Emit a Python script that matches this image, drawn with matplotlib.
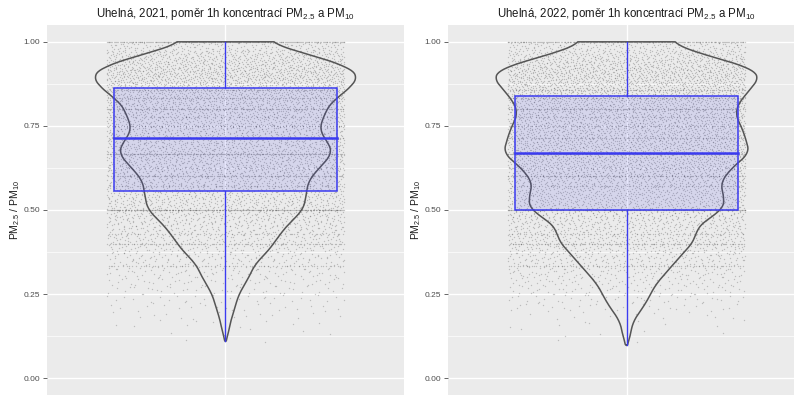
import numpy as np
import matplotlib
matplotlib.use("Agg")
import matplotlib.pyplot as plt

plt.rcParams["font.family"] = ["Liberation Sans", "DejaVu Sans"]
plt.rcParams["mathtext.fontset"] = "custom"
plt.rcParams["mathtext.rm"] = "Liberation Sans"
plt.rcParams["mathtext.it"] = "Liberation Sans:italic"

years = ["2021", "2022"]

# box statistics: whisker low, q1, median, q3, whisker high
box_2021 = [0.110, 0.556, 0.715, 0.864, 1.00]
box_2022 = [0.098, 0.500, 0.668, 0.838, 1.00]

# violin outline: ratio value and relative half-width (1 = widest)
violin_y_2021 = [0.110, 0.130, 0.172, 0.210, 0.250, 0.290, 0.320, 0.340, 0.370, 0.400,
                 0.440, 0.470, 0.500, 0.538, 0.588, 0.638, 0.668, 0.698, 0.737, 0.786,
                 0.826, 0.845, 0.865, 0.898, 0.925, 0.955, 0.975, 1.000]
violin_w_2021 = [0.00, 0.02, 0.04, 0.07, 0.10, 0.16, 0.20, 0.22, 0.30, 0.36,
                 0.43, 0.50, 0.58, 0.60, 0.62, 0.73, 0.80, 0.77, 0.70, 0.74,
                 0.80, 0.88, 0.93, 1.00, 0.92, 0.69, 0.50, 0.32]
violin_y_2022 = [0.098, 0.110, 0.123, 0.170, 0.220, 0.280, 0.320, 0.330, 0.370, 0.410,
                 0.440, 0.470, 0.500, 0.538, 0.580, 0.627, 0.668, 0.698, 0.737, 0.787,
                 0.826, 0.856, 0.898, 0.920, 0.945, 0.970, 1.000]
violin_w_2022 = [0.00, 0.02, 0.025, 0.05, 0.14, 0.22, 0.31, 0.33, 0.42, 0.51,
                 0.52, 0.59, 0.72, 0.73, 0.70, 0.79, 0.92, 0.90, 0.87, 0.81,
                 0.85, 0.92, 1.00, 0.94, 0.74, 0.50, 0.33]

# hourly ratios, counted in bins of 0.025 from 0.10 to 1.00
bin_lo = [0.100, 0.125, 0.150, 0.175, 0.200, 0.225, 0.250, 0.275, 0.300, 0.325, 0.350, 0.375,
          0.400, 0.425, 0.450, 0.475, 0.500, 0.525, 0.550, 0.575, 0.600, 0.625, 0.650, 0.675,
          0.700, 0.725, 0.750, 0.775, 0.800, 0.825, 0.850, 0.875, 0.900, 0.925, 0.950, 0.975]
counts_2021 = [2, 5, 10, 15, 22, 30, 40, 52, 66, 80, 98, 115, 132, 150, 168, 190, 205, 212,
               218, 222, 245, 262, 285, 280, 268, 252, 252, 268, 296, 320, 320, 356, 352,
               302, 250, 160]
counts_2022 = [2, 5, 8, 14, 28, 42, 56, 74, 92, 108, 130, 148, 165, 176, 188, 216, 250, 256,
               250, 256, 280, 302, 330, 325, 314, 302, 290, 296, 314, 330, 336, 358, 348,
               296, 240, 165]

# ratios that repeat often (integer concentrations) and form rows of dots
streak_levels = [1.0, 0.5, 0.6667, 0.75, 0.8, 0.6, 0.4, 0.3333, 0.8571, 0.7143, 0.8333,
                 0.4286, 0.5714, 0.625, 0.7778]
streak_2021 = [220, 300, 160, 130, 120, 120, 100, 70, 80, 75, 80, 50, 60, 60, 55]
streak_2022 = [200, 320, 170, 130, 120, 120, 110, 75, 80, 75, 80, 55, 65, 60, 55]

panels = [
    (box_2021, violin_y_2021, violin_w_2021, counts_2021, streak_2021),
    (box_2022, violin_y_2022, violin_w_2022, counts_2022, streak_2022),
]

BG = "#EBEBEB"
BLUE = "#3b3bf0"


def halton(idx, base):
    out = np.zeros(len(idx))
    f = 1.0
    i = idx.astype(float).copy()
    while np.any(i > 0):
        f /= base
        out += f * (i % base)
        i = np.floor(i / base)
    return out


def jitter(n, start):
    # deterministic spread of dots across the jitter band
    idx = np.arange(start, start + n)
    return halton(idx, 3), halton(idx, 2)


def draw(ax, year, box, vy, vw, counts, streaks, seed):
    ax.set_facecolor(BG)
    for s in ax.spines.values():
        s.set_visible(False)
    ax.set_xlim(0.4, 1.6)
    ax.set_ylim(-0.05, 1.05)
    ax.set_yticks([0, 0.25, 0.5, 0.75, 1.0])
    ax.set_yticklabels(["0.00", "0.25", "0.50", "0.75", "1.00"])
    ax.set_yticks([0.125, 0.375, 0.625, 0.875], minor=True)
    ax.set_xticks([1])
    ax.tick_params(axis="x", length=0, labelbottom=False)
    ax.tick_params(axis="y", which="major", length=3, width=0.6, color="#4d4d4d",
                   labelsize=6, labelcolor="#4d4d4d", pad=2)
    ax.tick_params(axis="y", which="minor", length=0)
    ax.grid(True, which="major", color="white", linewidth=1.0)
    ax.grid(True, which="minor", axis="y", color="white", linewidth=0.5)
    ax.set_axisbelow(True)

    # jittered points
    ys, xs = [], []
    start = seed
    for lo, c in zip(bin_lo, counts):
        u, v = jitter(c, start)
        start += c + 37
        xs.append(1 + 0.4 * (2 * u - 1))
        ys.append(lo + 0.025 * v)
    for lev, c in zip(streak_levels, streaks):
        u, _ = jitter(c, start)
        start += c + 53
        xs.append(1 + 0.4 * (2 * u - 1))
        ys.append(np.full(c, lev))
    ax.scatter(np.concatenate(xs), np.concatenate(ys), s=1.0, color="#303030",
               alpha=0.25, linewidths=0, zorder=2)

    # violin outline
    yy = np.linspace(vy[0], vy[-1], 400)
    ww = np.interp(yy, vy, vw)
    k = np.ones(21) / 21
    ww_s = np.convolve(np.pad(ww, 10, mode="edge"), k, mode="valid")
    ww_s[0] = ww[0]
    ww_s = ww_s * 0.45
    ax.plot(np.concatenate([1 - ww_s, (1 + ww_s)[::-1], [1 - ww_s[0]]]),
            np.concatenate([yy, yy[::-1], [yy[0]]]),
            color="#555555", linewidth=1.1, zorder=3)

    # box plot
    lo, q1, med, q3, hi = box
    ax.add_patch(plt.Rectangle((1 - 0.375, q1), 0.75, q3 - q1, facecolor=BLUE,
                               alpha=0.12, edgecolor="none", zorder=4))
    ax.add_patch(plt.Rectangle((1 - 0.375, q1), 0.75, q3 - q1, facecolor="none",
                               edgecolor=BLUE, linewidth=1.1, zorder=5))
    ax.plot([1 - 0.375, 1 + 0.375], [med, med], color=BLUE, linewidth=1.8, zorder=5)
    ax.plot([1, 1], [q3, hi], color=BLUE, linewidth=1.0, zorder=5)
    ax.plot([1, 1], [lo, q1], color=BLUE, linewidth=1.0, zorder=5)

    ax.set_title(f"Uhelná, {year}, poměr 1h koncentrací PM$_{{2.5}}$ a PM$_{{10}}$",
                 fontsize=8.3, color="#1a1a1a", pad=6)
    ax.set_ylabel("PM$_{2.5}$ / PM$_{10}$", fontsize=7.5, color="#1a1a1a", labelpad=1)


fig = plt.figure(figsize=(7.94, 3.96), dpi=100)
ax1 = fig.add_axes([47 / 794, 1 / 396, 357 / 794, 370 / 396])
ax2 = fig.add_axes([448 / 794, 1 / 396, 357 / 794, 370 / 396])
for ax, year, p, seed in zip([ax1, ax2], years, panels, [1, 20001]):
    draw(ax, year, *p, seed)

fig.savefig("out.png", dpi=100)
